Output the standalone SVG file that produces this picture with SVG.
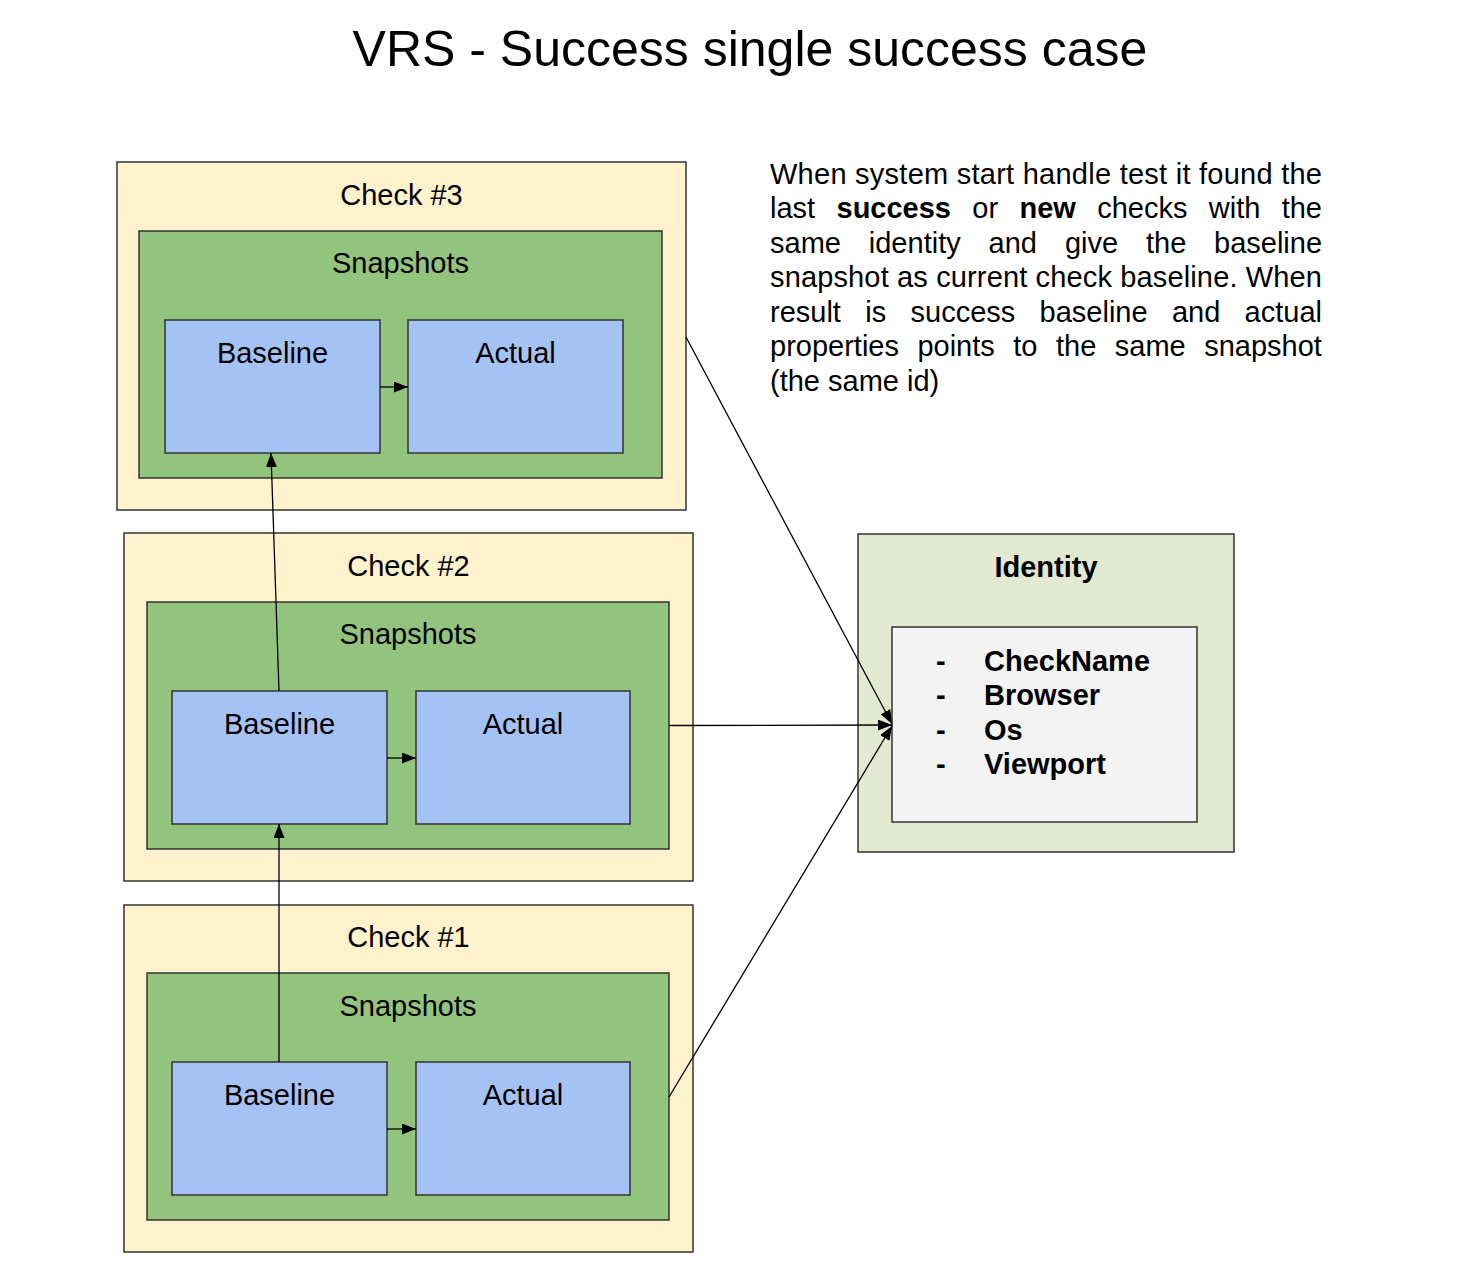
<svg xmlns="http://www.w3.org/2000/svg" width="1458" height="1288" viewBox="0 0 1458 1288">
<defs>
<marker id="ah" viewBox="0 0 14 11" refX="14" refY="5.5" markerWidth="14" markerHeight="11" markerUnits="userSpaceOnUse" orient="auto">
<path d="M0,0 L14,5.5 L0,11 Z" fill="#000"/>
</marker>
<style>
text{font-family:"Liberation Sans",Arial,sans-serif;fill:#000}
.lbl{font-size:29px;text-anchor:middle}
.check{fill:#fff2cc;stroke:#333;stroke-width:1.5}
.snap{fill:#93c47d;stroke:#333;stroke-width:1.5}
.box{fill:#a4c2f4;stroke:#333;stroke-width:1.5}
.ident{fill:#e3e8d1;stroke:#333;stroke-width:1.5}
.inner{fill:#f3f3f3;stroke:#333;stroke-width:1.5}
.conn{stroke:#000;stroke-width:1.3;fill:none;marker-end:url(#ah)}
.para{font-size:29px}
.b{font-weight:bold}
</style>
</defs>
<rect width="1458" height="1288" fill="#fff"/>
<text x="750" y="66" style="font-size:50px;text-anchor:middle">VRS - Success single success case</text>

<g id="check3">
<rect class="check" x="117" y="162" width="569" height="348"/>
<text class="lbl" x="401.5" y="205">Check #3</text>
<rect class="snap" x="139" y="231" width="523" height="247"/>
<text class="lbl" x="400.5" y="273">Snapshots</text>
<rect class="box" x="165" y="320" width="215" height="133"/>
<text class="lbl" x="272.5" y="363">Baseline</text>
<rect class="box" x="408" y="320" width="215" height="133"/>
<text class="lbl" x="515.5" y="363">Actual</text>
</g>

<g id="check2">
<rect class="check" x="124" y="533" width="569" height="348"/>
<text class="lbl" x="408.5" y="576">Check #2</text>
<rect class="snap" x="147" y="602" width="522" height="247"/>
<text class="lbl" x="408" y="644">Snapshots</text>
<rect class="box" x="172" y="691" width="215" height="133"/>
<text class="lbl" x="279.5" y="734">Baseline</text>
<rect class="box" x="416" y="691" width="214" height="133"/>
<text class="lbl" x="523" y="734">Actual</text>
</g>

<g id="check1">
<rect class="check" x="124" y="905" width="569" height="347"/>
<text class="lbl" x="408.5" y="947">Check #1</text>
<rect class="snap" x="147" y="973" width="522" height="247"/>
<text class="lbl" x="408" y="1016">Snapshots</text>
<rect class="box" x="172" y="1062" width="215" height="133"/>
<text class="lbl" x="279.5" y="1105">Baseline</text>
<rect class="box" x="416" y="1062" width="214" height="133"/>
<text class="lbl" x="523" y="1105">Actual</text>
</g>

<g id="identity">
<rect class="ident" x="858" y="534" width="376" height="318"/>
<text class="lbl b" x="1046" y="577">Identity</text>
<rect class="inner" x="892" y="627" width="305" height="195"/>
<text class="b" style="font-size:29px">
<tspan x="936" y="671">-</tspan><tspan x="984" y="671">CheckName</tspan>
<tspan x="936" y="705">-</tspan><tspan x="984" y="705">Browser</tspan>
<tspan x="936" y="740">-</tspan><tspan x="984" y="740">Os</tspan>
<tspan x="936" y="774">-</tspan><tspan x="984" y="774">Viewport</tspan>
</text>
</g>

<g id="description">
<text class="para" x="770" y="184" textLength="552" lengthAdjust="spacing">When system start handle test it found the</text>
<text class="para" y="218"><tspan x="770">last</tspan><tspan x="836.5" class="b">success</tspan><tspan x="972.3">or</tspan><tspan x="1019.5" class="b">new</tspan><tspan x="1097.2">checks</tspan><tspan x="1208.8">with</tspan><tspan x="1281.7">the</tspan></text>
<text class="para" y="253"><tspan x="770">same</tspan><tspan x="868.8">identity</tspan><tspan x="988.6">and</tspan><tspan x="1064.9">give</tspan><tspan x="1146">the</tspan><tspan x="1214">baseline</tspan></text>
<text class="para" x="770" y="287" textLength="552" lengthAdjust="spacing">snapshot as current check baseline. When</text>
<text class="para" y="322"><tspan x="770">result</tspan><tspan x="865.2">is</tspan><tspan x="910.5">success</tspan><tspan x="1039.6">baseline</tspan><tspan x="1171.9">and</tspan><tspan x="1244.6">actual</tspan></text>
<text class="para" y="356"><tspan x="770">properties</tspan><tspan x="917.4">points</tspan><tspan x="1013.3">to</tspan><tspan x="1056">the</tspan><tspan x="1114.8">same</tspan><tspan x="1204.2">snapshot</tspan></text>
<text class="para" x="770" y="391">(the same id)</text>
</g>

<g id="connectors">
<line class="conn" x1="380" y1="387" x2="408" y2="387"/>
<line class="conn" x1="387" y1="758" x2="416" y2="758"/>
<line class="conn" x1="387" y1="1129" x2="416" y2="1129"/>
<line class="conn" x1="279" y1="691" x2="271" y2="453"/>
<line class="conn" x1="279" y1="1062" x2="279" y2="824"/>
<line class="conn" x1="686" y1="337" x2="892" y2="724"/>
<line class="conn" x1="669" y1="725.5" x2="892" y2="725"/>
<line class="conn" x1="669" y1="1097" x2="892" y2="726"/>
</g>
</svg>
